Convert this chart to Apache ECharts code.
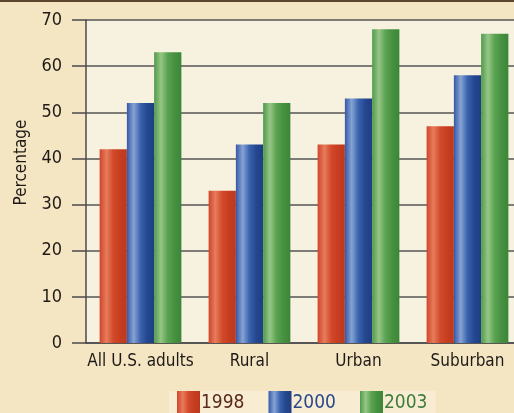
<!DOCTYPE html>
<html>
<head>
<meta charset="utf-8">
<script src="https://cdn.jsdelivr.net/npm/echarts@6/dist/echarts.min.js"></script>
<style>
  html, body { margin: 0; padding: 0; background: #f5e6c3; }
  #main { width: 514px; height: 413px; }
</style>
</head>
<body>
<div id="main"></div>
<script>
// 数据
const categories = ['All U.S. adults', 'Rural', 'Urban', 'Suburban'];
const years = ['1998', '2000', '2003'];
const values1998 = [42, 33, 43, 47];
const values2000 = [52, 43, 53, 58];
const values2003 = [63, 52, 68, 67];
const yTicks = [0, 10, 20, 30, 40, 50, 60, 70];

const FONT = '"Liberation Sans Narrow", "DejaVu Sans Condensed", "Liberation Sans", sans-serif';

// 圆柱状渐变
function tube(stops) {
    return {
        type: 'linear', x: 0, y: 0, x2: 1, y2: 0,
        colorStops: stops.map((c, i) => ({ offset: i / (stops.length - 1), color: c }))
    };
}
const fills = [
    tube(['#d04529', '#e67c5c', '#d24a2b', '#c63e1f', '#bd381c']),
    tube(['#3558a6', '#86a3d4', '#3a62ad', '#24478f', '#1f3d82']),
    tube(['#4f9a4c', '#96c686', '#58a251', '#46903f', '#3c863a'])
];
const textColors = ['#5a2a1e', '#2b4a8c', '#3f7c3c'];
const seriesValues = [values1998, values2000, values2003];

const myChart = echarts.init(document.getElementById('main'));

const option = {
    backgroundColor: '#f5e6c3',
    animation: false,
    textStyle: { fontFamily: FONT },
    graphic: [{
        type: 'rect',
        shape: { x: 0, y: 0, width: 514, height: 2 },
        style: { fill: '#5b4630' }
    }],
    grid: {
        left: 86, top: 20, width: 436, height: 323,
        outerBoundsMode: 'none',
        containLabel: false,
        show: true, backgroundColor: '#f7f1e0', borderWidth: 0
    },
    legend: {
        top: 391, left: 169,
        itemWidth: 23, itemHeight: 24, itemGap: 24,
        icon: 'rect',
        backgroundColor: '#f8edd2',
        padding: [0, 8, 0, 8],
        data: years.map((y, i) => ({
            name: y,
            textStyle: { color: textColors[i], fontSize: 19, fontFamily: FONT, padding: [0, 0, 0, -4] }
        }))
    },
    xAxis: {
        type: 'category',
        data: categories,
        axisLine: { lineStyle: { color: '#4a4a4a', width: 1.5 } },
        axisTick: { show: false },
        axisLabel: { color: '#1f1a17', fontSize: 17, margin: 10, interval: 0, fontFamily: FONT }
    },
    yAxis: {
        type: 'value',
        min: 0, max: 70, interval: 10,
        name: 'Percentage',
        nameLocation: 'middle',
        nameRotate: 90,
        nameGap: 54,
        nameTextStyle: { color: '#1f1a17', fontSize: 17, fontFamily: FONT, padding: [0, 0, 0, 38] },
        axisLine: { show: true, lineStyle: { color: '#4a4a4a', width: 1.5 } },
        axisTick: { show: true, length: 14, lineStyle: { color: '#4a4a4a', width: 1.5 } },
        axisLabel: {
            color: '#1f1a17', fontSize: 18, margin: 24, fontFamily: FONT,
            formatter: v => yTicks.includes(v) ? String(v) : ''
        },
        splitLine: { lineStyle: { color: '#555', width: 1.5 } }
    },
    series: years.map((y, i) => ({
        name: y,
        type: 'bar',
        data: seriesValues[i],
        barGap: '0%',
        barCategoryGap: '25%',
        itemStyle: { color: fills[i] }
    }))
};

myChart.setOption(option);
</script>
</body>
</html>
